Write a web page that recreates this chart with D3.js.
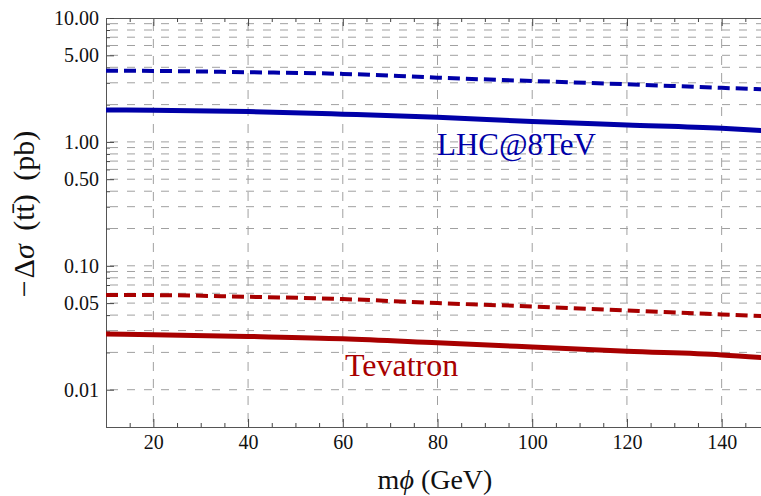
<!DOCTYPE html>
<html>
<head>
<meta charset="utf-8">
<script src="https://cdn.jsdelivr.net/npm/d3@7"></script>
<style>
  body { margin: 0; background: #fff; }
  svg { display: block; font-family: "Liberation Serif", "DejaVu Serif", serif; }
</style>
</head>
<body>
<svg width="761" height="496"></svg>
<script>
// 데이터
var mass = [10, 20, 40, 60, 80, 100, 120, 140, 150];
var lhcSolid = [1.81, 1.80, 1.756, 1.673, 1.582, 1.458, 1.371, 1.29, 1.225];
var lhcDashed = [3.76, 3.74, 3.65, 3.54, 3.30, 3.10, 2.92, 2.73, 2.65];
var tevSolid = [0.0281, 0.0278, 0.0269, 0.0258, 0.0239, 0.0221, 0.0204, 0.0191, 0.0180];
var tevDashed = [0.0580, 0.0580, 0.0562, 0.0539, 0.0500, 0.0470, 0.0436, 0.0405, 0.0391];

var xMajor = [20, 40, 60, 80, 100, 120, 140];
var yMajor = [0.01, 0.05, 0.1, 0.5, 1, 5, 10];

var svg = d3.select("svg");
// window.top 이랑 겹쳐서 이름 바꿈
var pLeft = 106, pRight = 769, pTop = 18, pBottom = 427;

var xScale = d3.scaleLinear().domain([10, 150]).range([pLeft, pRight]);
var yScale = d3.scaleLog().domain([0.005, 10]).range([pBottom, pTop]);

// minor 위치들
var xMinor = d3.range(15, 150, 5).filter(function(v) { return v % 20 != 0; });
var yAll = [];
[0.01, 0.1, 1].forEach(function(dec) {
  for (var k = 1; k <= 9; k++) yAll.push(+(k * dec).toPrecision(3));
});
yAll.push(10);
var yMinor = yAll.filter(function(v) { return yMajor.indexOf(v) < 0; });

svg.append("clipPath").attr("id", "plot")
  .append("rect").attr("x", pLeft).attr("y", pTop)
  .attr("width", pRight - pLeft).attr("height", pBottom - pTop);

// 그리드
var grid = svg.append("g").attr("clip-path", "url(#plot)");
grid.selectAll("line.h").data(yAll).enter().append("line")
  .attr("x1", pLeft).attr("x2", pRight)
  .attr("y1", function(d) { return yScale(d); })
  .attr("y2", function(d) { return yScale(d); })
  .attr("stroke", "#a0a0a0").attr("stroke-width", 1)
  .attr("stroke-dasharray", "8,9").attr("stroke-dashoffset", -4);
grid.selectAll("line.v").data(xMajor).enter().append("line")
  .attr("x1", function(d) { return xScale(d); })
  .attr("x2", function(d) { return xScale(d); })
  .attr("y1", pTop).attr("y2", pBottom)
  .attr("stroke", "#a0a0a0").attr("stroke-width", 1)
  .attr("stroke-dasharray", "9,8").attr("stroke-dashoffset", -4);

// 축
function styleAxis(g) {
  g.select(".domain").attr("stroke", "#555");
  g.selectAll(".tick line").attr("stroke", "#444");
  g.selectAll(".tick text").attr("fill", "#111").attr("font-size", 20)
    .attr("font-family", "Liberation Serif, serif");
}

svg.append("g").attr("transform", "translate(0," + pBottom + ")")
  .call(d3.axisBottom(xScale).tickValues(xMajor).tickSizeInner(-8).tickSizeOuter(0)
    .tickPadding(8).tickFormat(d3.format("d")))
  .call(styleAxis);
svg.append("g").attr("transform", "translate(0," + pBottom + ")")
  .call(d3.axisBottom(xScale).tickValues(xMinor).tickSize(-4).tickFormat(""))
  .call(styleAxis);
svg.append("g").attr("transform", "translate(0," + pTop + ")")
  .call(d3.axisTop(xScale).tickValues(xMajor).tickSizeInner(-8).tickSizeOuter(0).tickFormat(""))
  .call(styleAxis);
svg.append("g").attr("transform", "translate(0," + pTop + ")")
  .call(d3.axisTop(xScale).tickValues(xMinor).tickSize(-4).tickFormat(""))
  .call(styleAxis);

svg.append("g").attr("transform", "translate(" + pLeft + ",0)")
  .call(d3.axisLeft(yScale).tickValues(yMajor).tickSizeInner(-8).tickSizeOuter(0)
    .tickPadding(7).tickFormat(d3.format(".2f")))
  .call(styleAxis);
svg.append("g").attr("transform", "translate(" + pLeft + ",0)")
  .call(d3.axisLeft(yScale).tickValues(yMinor).tickSize(-4).tickFormat(""))
  .call(styleAxis);

// 선
var series = [
  { y: lhcDashed, color: "#0000a8", dash: "12,6", w: 4 },
  { y: lhcSolid, color: "#0000a8", dash: null, w: 5 },
  { y: tevDashed, color: "#a80000", dash: "12,6", w: 4 },
  { y: tevSolid, color: "#a80000", dash: null, w: 5 }
];
var line = d3.line()
  .x(function(d) { return xScale(d[0]); })
  .y(function(d) { return yScale(d[1]); })
  .curve(d3.curveMonotoneX);

svg.append("g").attr("clip-path", "url(#plot)")
  .selectAll("path").data(series).enter().append("path")
  .attr("d", function(s) { return line(d3.zip(mass, s.y)); })
  .attr("fill", "none")
  .attr("stroke", function(s) { return s.color; })
  .attr("stroke-width", function(s) { return s.w; })
  .attr("stroke-dasharray", function(s) { return s.dash; });

// 라벨
svg.append("text").attr("x", 437).attr("y", 155)
  .attr("font-size", 31).attr("fill", "#0000a8").text("LHC@8TeV");
svg.append("text").attr("x", 345).attr("y", 376)
  .attr("font-size", 32).attr("fill", "#a80000").text("Tevatron");

// x축 제목
var xt = svg.append("text").attr("x", 435).attr("y", 489)
  .attr("text-anchor", "middle").attr("font-size", 28).attr("fill", "#111");
xt.append("tspan").text("m");
xt.append("tspan").attr("font-style", "italic").text("ϕ");
xt.append("tspan").text(" (GeV)");

// y축 제목
var yt = svg.append("text")
  .attr("transform", "translate(34,214) rotate(-90)")
  .attr("text-anchor", "middle").attr("font-size", 30)
  .attr("word-spacing", 6).attr("fill", "#111");
yt.append("tspan").text("−");
yt.append("tspan").attr("dx", 2).text("Δ");
yt.append("tspan").attr("font-style", "italic").text("σ");
yt.append("tspan").text(" (tt̄) (pb)");
</script>
</body>
</html>
